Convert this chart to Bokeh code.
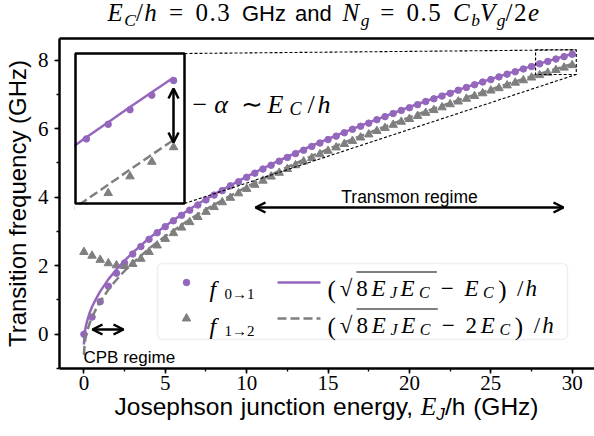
from bokeh.plotting import figure
from bokeh.layouts import column
from bokeh.models import (Range1d, LinearAxis, FixedTicker, SingleIntervalTicker, Label,
                          Arrow, OpenHead, BoxAnnotation, Div)
from bokeh.embed import file_html
from bokeh.resources import INLINE

# ---------------- data ----------------
ej = [0.0, 0.5, 1.0, 1.5, 2.0, 2.5, 3.0, 3.5, 4.0, 4.5, 5.0, 5.5, 6.0, 6.5, 7.0, 7.5,
      8.0, 8.5, 9.0, 9.5, 10.0, 10.5, 11.0, 11.5, 12.0, 12.5, 13.0, 13.5, 14.0, 14.5,
      15.0, 15.5, 16.0, 16.5, 17.0, 17.5, 18.0, 18.5, 19.0, 19.5, 20.0, 20.5, 21.0,
      21.5, 22.0, 22.5, 23.0, 23.5, 24.0, 24.5, 25.0, 25.5, 26.0, 26.5, 27.0, 27.5,
      28.0, 28.5, 29.0, 29.5, 30.0]
f01 = [0.00, 0.50, 0.95, 1.40, 1.78, 2.08, 2.34, 2.56, 2.77, 2.96, 3.14, 3.31, 3.47,
       3.62, 3.77, 3.92, 4.06, 4.19, 4.33, 4.45, 4.58, 4.70, 4.82, 4.93, 5.05, 5.16,
       5.27, 5.37, 5.48, 5.58, 5.68, 5.78, 5.88, 5.98, 6.07, 6.16, 6.26, 6.35, 6.44,
       6.53, 6.61, 6.70, 6.79, 6.87, 6.95, 7.03, 7.12, 7.20, 7.28, 7.36, 7.43, 7.51,
       7.59, 7.66, 7.74, 7.81, 7.89, 7.96, 8.03, 8.10, 8.17]
f12 = [2.40, 2.29, 2.17, 2.07, 2.01, 1.99, 2.05, 2.20, 2.40, 2.59, 2.78, 2.95, 3.11,
       3.27, 3.42, 3.57, 3.71, 3.85, 3.98, 4.11, 4.24, 4.36, 4.48, 4.60, 4.71, 4.82,
       4.93, 5.04, 5.14, 5.25, 5.35, 5.45, 5.55, 5.64, 5.74, 5.83, 5.93, 6.02, 6.11,
       6.20, 6.28, 6.37, 6.46, 6.54, 6.62, 6.71, 6.79, 6.87, 6.95, 7.03, 7.11, 7.18,
       7.26, 7.34, 7.41, 7.49, 7.56, 7.63, 7.71, 7.78, 7.85]
ej_fit = [0.0, 0.05, 0.1, 0.2, 0.35, 0.5, 0.75, 1.0, 1.5, 2.0, 2.5, 3.0, 4.0, 5.0, 6.0,
          7.0, 8.0, 10.0, 12.0, 14.0, 16.0, 18.0, 20.0, 22.0, 24.0, 26.0, 27.0, 27.5,
          28.0, 28.5, 29.0, 29.5, 30.0]
fit01 = [-0.30, 0.05, 0.19, 0.39, 0.62, 0.80, 1.04, 1.25, 1.60, 1.89, 2.15, 2.38, 2.80,
         3.16, 3.49, 3.80, 4.08, 4.60, 5.07, 5.50, 5.90, 6.27, 6.63, 6.97, 7.29, 7.599,
         7.750, 7.824, 7.898, 7.970, 8.043, 8.114, 8.185]
fit12 = [-0.60, -0.25, -0.11, 0.09, 0.32, 0.50, 0.74, 0.95, 1.30, 1.59, 1.85, 2.08, 2.50,
         2.86, 3.19, 3.50, 3.78, 4.30, 4.77, 5.20, 5.60, 5.97, 6.33, 6.67, 6.99, 7.299,
         7.450, 7.524, 7.598, 7.670, 7.743, 7.814, 7.885]
inset_xlim = (27.75, 30.25)
inset_ylim = (7.58, 8.30)

PURPLE = "#9467bd"
GREY = "#7f7f7f"
SERIF = "Liberation Serif"
SANS = "Liberation Sans"

# ---------------- page geometry (absolute page pixels) ----------------
W = 594
TITLE_H = 30            # title strip on top
XLAB_H = 36             # x-label strip at the bottom
FL, FR, FT, FB = 59, 594, 38, 368     # plot frame in page pixels
FIG_H = 436 - TITLE_H - XLAB_H
X0, X1 = -1.5, 31.37
Y0, Y1 = -1.0, 8.63

p = figure(width=W, height=FIG_H, x_range=Range1d(X0, X1), y_range=Range1d(Y0, Y1),
           output_backend="svg", toolbar_location=None,
           min_border_left=FL, min_border_right=W - FR, min_border_top=FT - TITLE_H,
           min_border_bottom=TITLE_H + FIG_H - FB)
p.outline_line_color = None
p.xgrid.visible = False
p.ygrid.visible = False
p.background_fill_color = "white"
p.border_fill_color = "white"


def X(px):
    return X0 + (px - FL) * (X1 - X0) / (FR - FL)


def Y(py):
    return Y1 - (py - FT) * (Y1 - Y0) / (FB - FT)


for ax in (p.xaxis[0], p.yaxis[0]):
    ax.axis_line_width = 2.5
    ax.axis_line_color = "black"
    ax.major_tick_line_width = 1.6
    ax.minor_tick_line_width = 1.3
    ax.major_tick_line_color = "black"
    ax.minor_tick_line_color = "black"
    ax.major_tick_in = 0
    ax.major_tick_out = 5
    ax.minor_tick_in = 0
    ax.minor_tick_out = 3
    ax.major_label_text_font = SERIF
    ax.major_label_text_font_size = "21px"
    ax.major_label_text_color = "black"

p.xaxis.ticker = SingleIntervalTicker(interval=5, num_minor_ticks=2)
p.yaxis.ticker = SingleIntervalTicker(interval=2, num_minor_ticks=2)
p.xaxis.major_label_standoff = 2
p.yaxis.major_label_standoff = 6
p.yaxis.axis_label = "Transition frequency (GHz)"
p.yaxis.axis_label_text_font = SANS
p.yaxis.axis_label_text_font_size = "24px"
p.yaxis.axis_label_text_font_style = "normal"
p.yaxis.axis_label_text_color = "black"
p.yaxis.axis_label_standoff = 4

top = LinearAxis(ticker=FixedTicker(ticks=[]), axis_line_width=2.5, axis_line_color="black",
                 major_tick_line_color=None, minor_tick_line_color=None,
                 major_tick_out=0, minor_tick_out=0, major_label_standoff=0,
                 major_label_text_font_size="0px")
p.add_layout(top, "above")

# ---------------- main series ----------------
p.scatter(ej, f01, marker="circle", size=6.5, color=PURPLE)
p.scatter(ej, f12, marker="triangle", size=8.5, color=GREY)
p.line(ej_fit, fit01, color=PURPLE, line_width=2.5)
p.line(ej_fit, fit12, color=GREY, line_width=2.5, line_dash="9 4")

# ---------------- inset ----------------
IL, IR, IT, IB = 75, 184, 53, 203
p.quad(left=[X(IL)], right=[X(IR)], bottom=[Y(IB)], top=[Y(IT)], fill_color="white",
       line_color=None)
sub = p.subplot(x_source=Range1d(*inset_xlim), y_source=Range1d(*inset_ylim),
                x_target=Range1d(X(IL), X(IR)), y_target=Range1d(Y(IB), Y(IT)))
sub.scatter(ej, f01, marker="circle", size=6.5, color=PURPLE)
sub.scatter(ej, f12, marker="triangle", size=8.5, color=GREY)
sub.line(ej_fit, fit01, color=PURPLE, line_width=2.5)
sub.line(ej_fit, fit12, color=GREY, line_width=2.5, line_dash="9 4")
# white masks so the inset content stays inside its box
p.quad(left=[X0 - 1], right=[X(IL - 1)], bottom=[Y(275)], top=[Y(IT - 1)],
       fill_color="white", line_color=None)
p.quad(left=[X(IL - 1)], right=[X(115)], bottom=[Y(235)], top=[Y(IB + 1)],
       fill_color="white", line_color=None)
p.quad(left=[X(IL)], right=[X(IR)], bottom=[Y(IB)], top=[Y(IT)], fill_color=None,
       line_color="black", line_width=2.5)
# zoom rectangle and connectors
p.quad(left=[inset_xlim[0]], right=[inset_xlim[1]], bottom=[inset_ylim[0]],
       top=[inset_ylim[1]], fill_color=None, line_color="black", line_width=1.1,
       line_dash="3 2")
p.segment(x0=[X(IR), X(IR)], y0=[Y(IT), Y(IB)], x1=[inset_xlim[1], inset_xlim[1]],
          y1=[inset_ylim[1], inset_ylim[0]], line_color="black", line_width=1.1,
          line_dash="3 2")


# ---------------- arrows ----------------
def dbl_arrow(xs, ys, xe, ye):
    p.add_layout(Arrow(x_start=xs, y_start=ys, x_end=xe, y_end=ye, line_width=2.5,
                       line_color="black",
                       start=OpenHead(size=10, line_width=2.5, line_color="black"),
                       end=OpenHead(size=10, line_width=2.5, line_color="black")))


dbl_arrow(X(173), Y(88), X(173), Y(142))
dbl_arrow(X(255), Y(207), X(563), Y(207))
dbl_arrow(X(92), Y(329), X(123), Y(329))

# ---------------- text helpers (labels inside the frame) ----------------
WID = {
    "mi": {"E": .611, "C": .667, "h": .5, "N": .667, "g": .5, "b": .5, "V": .611,
           "e": .444, "J": .444, "f": .278, "α": .55},
    "rm": {".": .25, "=": .564, "/": .278, " ": .25, "(": .333, ")": .333, "−": .564,
           "∼": .55, "→": 1.0, "√": .55},
}


def tw(text, kind, size):
    d = WID[kind]
    return sum(d.get(c, .5) for c in text) * size


def lab(px, py, t, kind, size):
    p.add_layout(Label(x=X(px), y=Y(py), text=t, text_font=SERIF,
                       text_font_style="italic" if kind == "mi" else "normal",
                       text_font_size=f"{size}px", text_baseline="alphabetic",
                       text_align="left", text_color="black"))


def runs(x0, base, parts, x1=None):
    adv = [gap + tw(t, k, s) for (t, k, s, dy, gap) in parts]
    sc = 1.0 if x1 is None else (x1 - x0) / sum(adv)
    x = x0
    pos = []
    for (t, k, s, dy, gap), a in zip(parts, adv):
        x += gap * sc
        pos.append(x)
        lab(x, base + dy, t, k, s)
        x += (a - gap) * sc
    return pos, x


# anharmonicity label
runs(192, 104, [("−", "rm", 26, 0, 0), ("α", "mi", 26, 0, 1), ("∼", "rm", 26, 0, 5),
                ("E", "mi", 26, 0, 5), ("C", "mi", 18, 4, 0), ("/", "rm", 26, 0, 1),
                ("h", "mi", 26, 0, 0)], x1=335)

# regime labels
p.add_layout(Label(x=X(409), y=Y(196), text="Transmon regime", text_font=SANS,
                   text_font_size="17.5px", text_align="center", text_baseline="alphabetic",
                   text_color="black"))
p.add_layout(Label(x=X(83), y=Y(357), text="CPB regime", text_font=SANS,
                   text_font_size="17px", text_align="left", text_baseline="alphabetic",
                   text_color="black"))

# ---------------- legend ----------------
p.add_layout(BoxAnnotation(left=X(157), right=X(567), top=Y(263), bottom=Y(339),
                           fill_color="white", fill_alpha=0.8, line_color="#cccccc",
                           line_width=1.5, border_radius=5, level="underlay"))
rows = [(282, 288), (318, 325)]
p.scatter([X(186)], [Y(rows[0][0])], marker="circle", size=6.5, color=PURPLE)
p.scatter([X(186)], [Y(rows[1][0])], marker="triangle", size=8.5, color=GREY)
p.line([X(277), X(320)], [Y(rows[0][0])] * 2, color=PURPLE, line_width=2.5)
p.line([X(277), X(320)], [Y(rows[1][0])] * 2, color=GREY, line_width=2.5, line_dash="9 4")

for (cy, base), subtxt in ((rows[0], "0→1"), (rows[1], "1→2")):
    lab(209, base, "f", "mi", 24)
    lab(224, base + 5, subtxt, "rm", 15)

for (cy, base), two, xend in ((rows[0], False, 540), (rows[1], True, 557)):
    parts = [("(", "rm", 25, 1, 0), ("√", "rm", 23, 0, 1), ("8", "rm", 23, 0, 0),
             ("E", "mi", 23, 0, 0), ("J", "mi", 16, 4, 0), ("E", "mi", 23, 0, 1),
             ("C", "mi", 16, 4, 0), ("−", "rm", 23, 0, 6)]
    if two:
        parts += [("2", "rm", 23, 0, 5), ("E", "mi", 23, 0, 0)]
    else:
        parts += [("E", "mi", 23, 0, 5)]
    parts += [("C", "mi", 16, 4, 0), (")", "rm", 25, 1, 1), ("/", "rm", 23, 0, 6),
              ("h", "mi", 23, 0, 0)]
    pos, _ = runs(327, base, parts, x1=xend)
    # overline of the square root
    p.segment(x0=[X(pos[2])], y0=[Y(base - 16.5)], x1=[X(pos[7] - 4)], y1=[Y(base - 16.5)],
              line_color="black", line_width=1.2)

# ---------------- title and x label as HTML text strips ----------------
def sb(s):
    return ('<sub style="font-size:70%;vertical-align:-0.3em;line-height:0;'
            f'letter-spacing:0"><i>{s}</i></sub>')


title_html = (
    '<div style="width:594px;box-sizing:border-box;padding-left:54px;text-align:center;'
    "white-space:nowrap;font-family:'Liberation Serif';font-size:25px;line-height:25px;"
    'letter-spacing:1.5px;word-spacing:3px;color:black">'
    f'<i>E</i>{sb("C")}/<i>h</i> = 0.3 '
    "<span style=\"font-family:'Liberation Sans';font-size:22px;letter-spacing:0\">GHz and</span> "
    f'<i>N</i>{sb("g")} = 0.5 <i>C</i>{sb("b")}<i>V</i>{sb("g")}/2<i>e</i></div>'
)
xlab_html = (
    '<div style="width:594px;box-sizing:border-box;padding-left:59px;text-align:center;'
    "white-space:nowrap;font-family:'Liberation Sans';font-size:24.5px;line-height:13px;"
    'word-spacing:1px;color:black">'
    "Josephson junction energy, "
    f"<i style=\"font-family:'Liberation Serif';font-size:25.5px\">E</i>{sb('J')}/h (GHz)</div>"
)
title_div = Div(text=title_html, width=W, height=TITLE_H, margin=0)
xlab_div = Div(text=xlab_html, width=W, height=XLAB_H, margin=0)

layout = column(title_div, p, xlab_div, spacing=0, margin=0)
open("out.html", "w").write(file_html(layout, INLINE))
